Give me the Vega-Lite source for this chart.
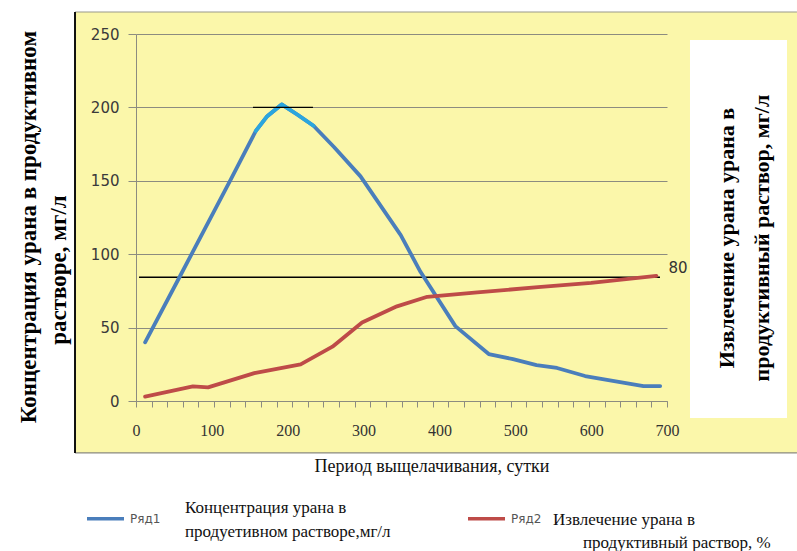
{
  "$schema": "https://vega.github.io/schema/vega-lite/v6.json",
  "width": 531,
  "height": 367,
  "autosize": {"type": "none"},
  "padding": {"left": 136, "top": 34, "right": 130, "bottom": 150},
  "background": "#FBF7AA",
  "config": {"view": {"stroke": null}},
  "resolve": {"axis": {"x": "independent", "y": "independent"}},
  "data": {"values": [{}]},
  "datasets": {
    "series": [
      {"series": "Ряд1", "day": 12, "value": 40},
      {"series": "Ряд1", "day": 59, "value": 86},
      {"series": "Ряд1", "day": 125, "value": 151},
      {"series": "Ряд1", "day": 158, "value": 184},
      {"series": "Ряд1", "day": 173, "value": 194},
      {"series": "Ряд1", "day": 192, "value": 202},
      {"series": "Ряд1", "day": 213, "value": 195},
      {"series": "Ряд1", "day": 234, "value": 187.5},
      {"series": "Ряд1", "day": 261, "value": 173},
      {"series": "Ряд1", "day": 296, "value": 153},
      {"series": "Ряд1", "day": 349, "value": 113},
      {"series": "Ряд1", "day": 375, "value": 88},
      {"series": "Ряд1", "day": 421, "value": 51},
      {"series": "Ряд1", "day": 465, "value": 32},
      {"series": "Ряд1", "day": 497, "value": 28.5},
      {"series": "Ряд1", "day": 528, "value": 24.5},
      {"series": "Ряд1", "day": 555, "value": 22.5},
      {"series": "Ряд1", "day": 592, "value": 17},
      {"series": "Ряд1", "day": 669, "value": 10.2},
      {"series": "Ряд1", "day": 691, "value": 10.2},
      {"series": "Ряд2", "day": 12, "value": 3},
      {"series": "Ряд2", "day": 75, "value": 10},
      {"series": "Ряд2", "day": 95, "value": 9.3},
      {"series": "Ряд2", "day": 156, "value": 19},
      {"series": "Ряд2", "day": 217, "value": 25},
      {"series": "Ряд2", "day": 259, "value": 37},
      {"series": "Ряд2", "day": 298, "value": 53.5},
      {"series": "Ряд2", "day": 344, "value": 64.5},
      {"series": "Ряд2", "day": 384, "value": 71},
      {"series": "Ряд2", "day": 450, "value": 74},
      {"series": "Ряд2", "day": 530, "value": 77.5},
      {"series": "Ряд2", "day": 600, "value": 80.5},
      {"series": "Ряд2", "day": 686, "value": 85.2}
    ]
  },
  "layer": [
    {
      "mark": {"type": "rect", "fill": "white", "clip": false},
      "encoding": {
        "x": {"datum": -179.3, "type": "quantitative", "scale": {"domain": [0, 700], "nice": false, "zero": false}, "axis": null},
        "x2": {"datum": 871.3},
        "y": {"datum": 273.2, "type": "quantitative", "scale": {"domain": [0, 250], "nice": false, "zero": false}, "axis": null},
        "y2": {"datum": 265.0}
      }
    },
    {
      "mark": {"type": "rect", "fill": "white", "clip": false},
      "encoding": {
        "x": {"datum": -179.3, "type": "quantitative", "scale": {"domain": [0, 700], "nice": false, "zero": false}, "axis": null},
        "x2": {"datum": -80.4},
        "y": {"datum": 273.2, "type": "quantitative", "scale": {"domain": [0, 250], "nice": false, "zero": false}, "axis": null},
        "y2": {"datum": -102.2}
      }
    },
    {
      "mark": {"type": "rect", "fill": "white", "clip": false},
      "encoding": {
        "x": {"datum": -179.3, "type": "quantitative", "scale": {"domain": [0, 700], "nice": false, "zero": false}, "axis": null},
        "x2": {"datum": 871.3},
        "y": {"datum": -35.4, "type": "quantitative", "scale": {"domain": [0, 250], "nice": false, "zero": false}, "axis": null},
        "y2": {"datum": -102.2}
      }
    },
    {
      "mark": {"type": "rect", "fill": "white", "clip": false},
      "encoding": {
        "x": {"datum": 730.3, "type": "quantitative", "scale": {"domain": [0, 700], "nice": false, "zero": false}, "axis": null},
        "x2": {"datum": 858.2},
        "y": {"datum": 245.9, "type": "quantitative", "scale": {"domain": [0, 250], "nice": false, "zero": false}, "axis": null},
        "y2": {"datum": -11.6}
      }
    },
    {
      "mark": {"type": "rule", "color": "#9a9a8c", "strokeWidth": 1.2, "clip": false},
      "encoding": {
        "x": {"datum": -80.4, "type": "quantitative", "scale": {"domain": [0, 700], "nice": false, "zero": false}, "axis": null},
        "x2": {"datum": 871.3},
        "y": {"datum": 265.0, "type": "quantitative", "scale": {"domain": [0, 250], "nice": false, "zero": false}, "axis": null}
      }
    },
    {
      "mark": {"type": "rule", "color": "#8a8a80", "strokeWidth": 1.2, "clip": false},
      "encoding": {
        "x": {"datum": -80.4, "type": "quantitative", "scale": {"domain": [0, 700], "nice": false, "zero": false}, "axis": null},
        "x2": {"datum": 871.3},
        "y": {"datum": -35.4, "type": "quantitative", "scale": {"domain": [0, 250], "nice": false, "zero": false}, "axis": null}
      }
    },
    {
      "mark": {"type": "rule", "color": "#111111", "strokeWidth": 2, "clip": false},
      "encoding": {
        "x": {"datum": -80.4, "type": "quantitative", "scale": {"domain": [0, 700], "nice": false, "zero": false}, "axis": null},
        "y": {"datum": 265.0, "type": "quantitative", "scale": {"domain": [0, 250], "nice": false, "zero": false}, "axis": null},
        "y2": {"datum": -35.4}
      }
    },
    {
      "mark": {"type": "rule", "color": "#000000", "strokeWidth": 1.3, "clip": false},
      "encoding": {
        "x": {"datum": 4, "type": "quantitative", "scale": {"domain": [0, 700], "nice": false, "zero": false}, "axis": null},
        "x2": {"datum": 690.7},
        "y": {"datum": 84.3, "type": "quantitative", "scale": {"domain": [0, 250], "nice": false, "zero": false}, "axis": null}
      }
    },
    {
      "data": {"name": "series"},
      "mark": {"type": "line", "strokeWidth": 3.8, "strokeJoin": "round", "strokeCap": "round", "clip": false},
      "encoding": {
        "x": {
          "field": "day", "type": "quantitative",
          "scale": {"domain": [0, 700], "nice": false, "zero": false},
          "axis": {
            "title": null,
            "values": [0, 20.59, 41.18, 61.76, 82.35, 100, 102.94, 123.53, 144.12, 164.71, 185.29, 200, 205.88, 226.47, 247.06, 267.65, 288.24, 300, 308.82, 329.41, 350, 370.59, 391.18, 400, 411.76, 432.35, 452.94, 473.53, 494.12, 500, 514.71, 535.29, 555.88, 576.47, 597.06, 600, 617.65, 638.24, 658.82, 679.41, 700],
            "labelExpr": "datum.value % 100 === 0 ? datum.label : ''",
            "labelOverlap": false,
            "labelFlush": false,
            "labelBound": false,
            "grid": false,
            "domainColor": "#8c8c80",
            "tickColor": "#8c8c80",
            "tickSize": 6,
            "tickOpacity": {"condition": {"test": "datum.value % 100 === 0 && datum.value > 0 && datum.value < 700", "value": 0}, "value": 1},
            "labelFont": "Liberation Serif",
            "labelFontSize": 16,
            "labelColor": "#333333",
            "labelPadding": 15
          }
        },
        "y": {
          "field": "value", "type": "quantitative",
          "scale": {"domain": [0, 250], "nice": false, "zero": false},
          "axis": {
            "title": null,
            "values": [0, 50, 100, 150, 200, 250],
            "grid": true,
            "gridColor": "#8c8c80",
            "gridWidth": 1,
            "domainColor": "#8c8c80",
            "tickColor": "#8c8c80",
            "tickSize": 8,
            "labelFont": "DejaVu Sans",
            "labelFontSize": 15,
            "labelColor": "#3a3a3a",
            "labelPadding": 9
          }
        },
        "color": {
          "field": "series", "type": "nominal",
          "scale": {"domain": ["Ряд1", "Ряд2"], "range": ["#4A7EBB", "#BE4B48"]},
          "legend": {
            "title": null,
            "orient": "none",
            "legendX": -51,
            "legendY": 464,
            "direction": "horizontal",
            "symbolType": "stroke",
            "symbolSize": 1369,
            "symbolStrokeWidth": 3.5,
            "labelFont": "DejaVu Sans",
            "labelFontSize": 12,
            "labelColor": "#555555",
            "labelOffset": 4,
            "columnPadding": 300
          }
        }
      }
    },
    {
      "data": {"name": "series"},
      "transform": [{"filter": "datum.series === 'Ряд1' && datum.day >= 158 && datum.day <= 234"}],
      "mark": {"type": "line", "strokeWidth": 3.8, "strokeJoin": "round", "strokeCap": "round", "color": "#2BA6DE", "clip": false},
      "encoding": {
        "x": {"field": "day", "type": "quantitative", "scale": {"domain": [0, 700], "nice": false, "zero": false}, "axis": null},
        "y": {"field": "value", "type": "quantitative", "scale": {"domain": [0, 250], "nice": false, "zero": false}, "axis": null}
      }
    },
    {
      "mark": {"type": "rule", "color": "#000000", "strokeWidth": 1.3, "clip": false},
      "encoding": {
        "x": {"datum": 154.2, "type": "quantitative", "scale": {"domain": [0, 700], "nice": false, "zero": false}, "axis": null},
        "x2": {"datum": 233.3},
        "y": {"datum": 200, "type": "quantitative", "scale": {"domain": [0, 250], "nice": false, "zero": false}, "axis": null}
      }
    },
    {
      "mark": {"type": "text", "text": "80", "font": "DejaVu Sans", "fontSize": 15, "color": "#333333", "align": "center", "baseline": "middle", "clip": false},
      "encoding": {
        "x": {"datum": 714.5, "type": "quantitative", "scale": {"domain": [0, 700], "nice": false, "zero": false}, "axis": null},
        "y": {"datum": 90.6, "type": "quantitative", "scale": {"domain": [0, 250], "nice": false, "zero": false}, "axis": null}
      }
    },
    {
      "mark": {"type": "text", "text": "Концентрация урана в продуктивном", "font": "Liberation Serif", "fontWeight": "bold", "fontSize": 23, "color": "#000000", "angle": 270, "align": "center", "baseline": "middle", "clip": false},
      "encoding": {
        "x": {"datum": -140.4, "type": "quantitative", "scale": {"domain": [0, 700], "nice": false, "zero": false}, "axis": null},
        "y": {"datum": 118.5, "type": "quantitative", "scale": {"domain": [0, 250], "nice": false, "zero": false}, "axis": null}
      }
    },
    {
      "mark": {"type": "text", "text": "растворе, мг/л", "font": "Liberation Serif", "fontWeight": "bold", "fontSize": 23, "color": "#000000", "angle": 270, "align": "center", "baseline": "middle", "clip": false},
      "encoding": {
        "x": {"datum": -101.5, "type": "quantitative", "scale": {"domain": [0, 700], "nice": false, "zero": false}, "axis": null},
        "y": {"datum": 89.2, "type": "quantitative", "scale": {"domain": [0, 250], "nice": false, "zero": false}, "axis": null}
      }
    },
    {
      "mark": {"type": "text", "text": "Извлечение урана урана в", "font": "Liberation Serif", "fontWeight": "bold", "fontSize": 22, "color": "#000000", "angle": 270, "align": "center", "baseline": "middle", "clip": false},
      "encoding": {
        "x": {"datum": 779.1, "type": "quantitative", "scale": {"domain": [0, 700], "nice": false, "zero": false}, "axis": null},
        "y": {"datum": 111.0, "type": "quantitative", "scale": {"domain": [0, 250], "nice": false, "zero": false}, "axis": null}
      }
    },
    {
      "mark": {"type": "text", "text": "продуктивный раствор, мг/л", "font": "Liberation Serif", "fontWeight": "bold", "fontSize": 22, "color": "#000000", "angle": 270, "align": "center", "baseline": "middle", "clip": false},
      "encoding": {
        "x": {"datum": 825.3, "type": "quantitative", "scale": {"domain": [0, 700], "nice": false, "zero": false}, "axis": null},
        "y": {"datum": 111.0, "type": "quantitative", "scale": {"domain": [0, 250], "nice": false, "zero": false}, "axis": null}
      }
    },
    {
      "mark": {"type": "text", "text": "Период выщелачивания, сутки", "font": "Liberation Serif", "fontSize": 18, "color": "#111111", "align": "center", "baseline": "middle", "clip": false},
      "encoding": {
        "x": {"datum": 390.2, "type": "quantitative", "scale": {"domain": [0, 700], "nice": false, "zero": false}, "axis": null},
        "y": {"datum": -45.0, "type": "quantitative", "scale": {"domain": [0, 250], "nice": false, "zero": false}, "axis": null}
      }
    },
    {
      "mark": {"type": "text", "text": "Концентрация урана в", "font": "Liberation Serif", "fontSize": 17, "color": "#111111", "align": "left", "baseline": "middle", "clip": false},
      "encoding": {
        "x": {"datum": 64.6, "type": "quantitative", "scale": {"domain": [0, 700], "nice": false, "zero": false}, "axis": null},
        "y": {"datum": -72.9, "type": "quantitative", "scale": {"domain": [0, 250], "nice": false, "zero": false}, "axis": null}
      }
    },
    {
      "mark": {"type": "text", "text": "продуетивном растворе,мг/л", "font": "Liberation Serif", "fontSize": 17, "color": "#111111", "align": "left", "baseline": "middle", "clip": false},
      "encoding": {
        "x": {"datum": 64.6, "type": "quantitative", "scale": {"domain": [0, 700], "nice": false, "zero": false}, "axis": null},
        "y": {"datum": -89.2, "type": "quantitative", "scale": {"domain": [0, 250], "nice": false, "zero": false}, "axis": null}
      }
    },
    {
      "mark": {"type": "text", "text": "Извлечение урана в", "font": "Liberation Serif", "fontSize": 17, "color": "#111111", "align": "left", "baseline": "middle", "clip": false},
      "encoding": {
        "x": {"datum": 549.7, "type": "quantitative", "scale": {"domain": [0, 700], "nice": false, "zero": false}, "axis": null},
        "y": {"datum": -81.2, "type": "quantitative", "scale": {"domain": [0, 250], "nice": false, "zero": false}, "axis": null}
      }
    },
    {
      "mark": {"type": "text", "text": "продуктивный раствор, %", "font": "Liberation Serif", "fontSize": 17, "color": "#111111", "align": "left", "baseline": "middle", "clip": false},
      "encoding": {
        "x": {"datum": 589.2, "type": "quantitative", "scale": {"domain": [0, 700], "nice": false, "zero": false}, "axis": null},
        "y": {"datum": -96.9, "type": "quantitative", "scale": {"domain": [0, 250], "nice": false, "zero": false}, "axis": null}
      }
    }
  ]
}
